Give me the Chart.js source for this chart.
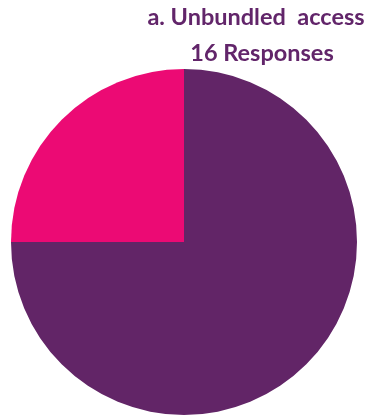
<!DOCTYPE html>
<html>
<head>
<meta charset="utf-8">
<script src="https://cdn.jsdelivr.net/npm/chart.js@4/dist/chart.umd.min.js"></script>
<style>
  html, body { margin: 0; padding: 0; background: #fff; }
  #wrap { width: 372px; height: 417px; position: relative; }
</style>
</head>
<body>
<div id="wrap"><canvas id="pie"></canvas></div>
<script>
// answers for question a.
var labels = ['Yes', 'No'];
var responses = [12, 4];
var colours = ['#622567', '#EC0A74'];
var headings = ['a. Unbundled  access', '16 Responses'];

// two heading lines drawn over the top right of the pie
var headingPlugin = {
  id: 'heading',
  afterDraw: function (chart) {
    var ctx = chart.ctx;
    ctx.save();
    ctx.fillStyle = '#62256A';
    ctx.font = 'bold 23.5px Lato, "Open Sans", sans-serif';
    ctx.textAlign = 'center';
    ctx.textBaseline = 'alphabetic';
    ctx.fillText(headings[0], 256, 25);
    ctx.fillText(headings[1], 262, 61);
    ctx.restore();
  }
};

var ctx = document.getElementById('pie');
var pie = new Chart(ctx, {
  type: 'pie',
  data: {
    labels: labels,
    datasets: [{
      data: responses,
      backgroundColor: colours,
      borderWidth: 0
    }]
  },
  options: {
    responsive: true,
    maintainAspectRatio: false,
    animation: false,
    layout: { padding: { left: 11, right: 15, top: 69, bottom: 2 } },
    plugins: {
      legend: { display: false },
      tooltip: { enabled: false }
    }
  },
  plugins: [headingPlugin]
});
</script>
</body>
</html>
